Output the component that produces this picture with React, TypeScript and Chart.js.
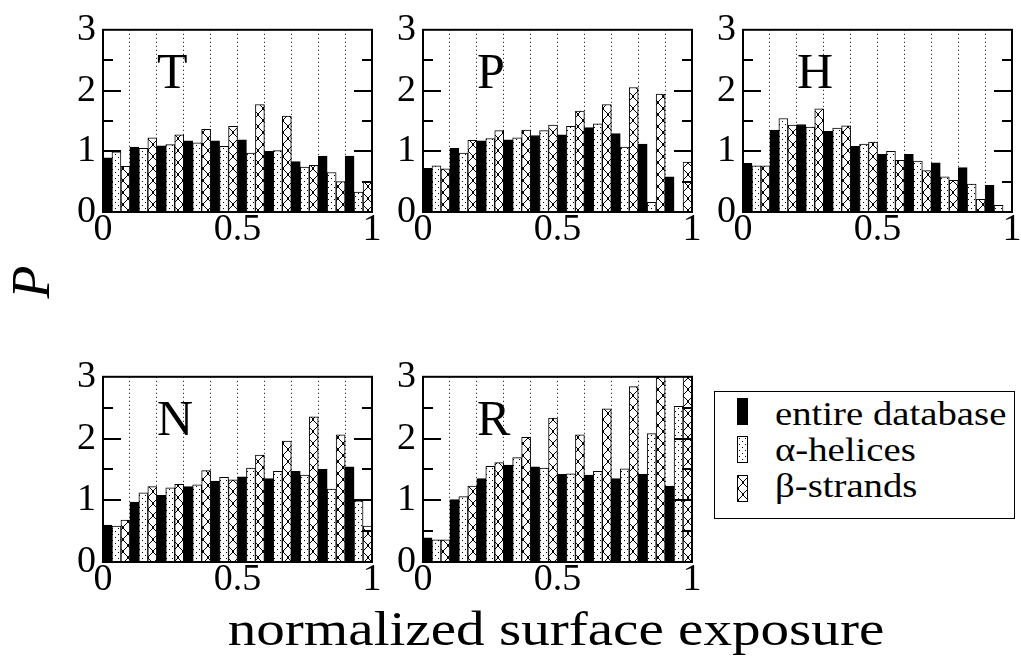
import React, { useEffect, useRef } from 'react';
import { Chart, registerables } from 'chart.js';

Chart.register(...registerables);

// ---------- data ----------
const BINS = ['0-0.1', '0.1-0.2', '0.2-0.3', '0.3-0.4', '0.4-0.5', '0.5-0.6', '0.6-0.7', '0.7-0.8', '0.8-0.9', '0.9-1'];
const SERIES = ['entire database', 'α-helices', 'β-strands'];
const X_TICK_LABELS = [0, 0.5, 1];
const X_GRID_STEP = 0.1;
const Y_MAX = 3;
const Y_LABEL_STEP = 1;
const Y_INNER_TICKS = [0.5, 1, 1.5, 2, 2.5];

const T_ENTIRE = [0.89, 1.07, 1.09, 1.17, 1.17, 1.19, 1.0, 0.83, 0.92, 0.92];
const T_HELIX = [0.99, 1.05, 1.11, 1.14, 1.08, 0.97, 1.01, 0.74, 0.65, 0.33];
const T_STRAND = [0.75, 1.22, 1.27, 1.36, 1.41, 1.77, 1.58, 0.77, 0.5, 0.5];

const P_ENTIRE = [0.72, 1.05, 1.17, 1.19, 1.26, 1.27, 1.39, 1.29, 1.12, 0.58];
const P_HELIX = [0.76, 0.97, 1.21, 1.22, 1.34, 1.41, 1.45, 1.07, 0.16, 0];
const P_STRAND = [0.71, 1.18, 1.34, 1.35, 1.43, 1.66, 1.77, 2.05, 1.94, 0.82];

const H_ENTIRE = [0.8, 1.35, 1.44, 1.33, 1.08, 0.95, 0.95, 0.81, 0.73, 0.44];
const H_HELIX = [0.76, 1.54, 1.4, 1.38, 1.12, 1.0, 0.84, 0.58, 0.46, 0.11];
const H_STRAND = [0.76, 1.43, 1.7, 1.42, 1.15, 0.85, 0.68, 0.52, 0.21, 0];

const N_ENTIRE = [0.6, 0.97, 1.08, 1.22, 1.31, 1.38, 1.35, 1.47, 1.5, 1.54];
const N_HELIX = [0.58, 1.12, 1.2, 1.25, 1.37, 1.52, 1.47, 1.41, 1.18, 0.99];
const N_STRAND = [0.68, 1.22, 1.26, 1.48, 1.33, 1.73, 1.96, 2.35, 2.06, 0.58];

const R_ENTIRE = [0.39, 1.01, 1.35, 1.57, 1.54, 1.42, 1.41, 1.35, 1.42, 1.23];
const R_HELIX = [0.36, 1.06, 1.55, 1.69, 1.52, 1.43, 1.47, 1.51, 2.08, 2.52];
const R_STRAND = [0.36, 1.23, 1.61, 2.02, 2.33, 2.06, 2.48, 2.84, 3.2, 3.2];

const PANEL_NAMES = ['T', 'P', 'H', 'N', 'R'];
const PANEL_SERIES: Record<string, number[][]> = {
  T: [T_ENTIRE, T_HELIX, T_STRAND],
  P: [P_ENTIRE, P_HELIX, P_STRAND],
  H: [H_ENTIRE, H_HELIX, H_STRAND],
  N: [N_ENTIRE, N_HELIX, N_STRAND],
  R: [R_ENTIRE, R_HELIX, R_STRAND],
};

const Y_TITLE = 'P';
const X_TITLE = 'normalized surface exposure';

// ---------- layout (plot areas in page pixels) ----------
const PLOT_AREAS = [
  { left: 103, top: 24, width: 269, height: 188 },
  { left: 423, top: 24, width: 269, height: 188 },
  { left: 743, top: 24, width: 269, height: 188 },
  { left: 103, top: 371, width: 269, height: 191 },
  { left: 423, top: 371, width: 269, height: 191 },
];
const PAD_LEFT = 70;
const PAD_TOP = 24;
const PAD_RIGHT = 12;
const PAD_BOTTOM = 50;
const FONT = '"Liberation Serif", "Times New Roman", serif';

function makeTile(kind: 'dots' | 'cross'): HTMLCanvasElement {
  const c = document.createElement('canvas');
  const w = kind === 'dots' ? 6 : 10;
  const h = kind === 'dots' ? 6 : 12;
  c.width = w;
  c.height = h;
  const g = c.getContext('2d')!;
  g.fillStyle = '#fff';
  g.fillRect(0, 0, w, h);
  g.fillStyle = '#000';
  if (kind === 'dots') {
    g.fillRect(1, 1, 1, 1);
    g.fillRect(4, 4, 1, 1);
  } else {
    for (let j = 0; j < h; j++) {
      const x = Math.floor((j * w) / h);
      g.fillRect(x, j, 1, 1);
      g.fillRect(w - 1 - x, j, 1, 1);
    }
    g.fillRect(4, 5, 2, 2);
    g.fillRect(0, 0, 1, 1);
    g.fillRect(w - 1, 0, 1, 1);
    g.fillRect(0, h - 1, 1, 1);
    g.fillRect(w - 1, h - 1, 1, 1);
  }
  return c;
}

const framePlugin = {
  id: 'frame',
  afterDatasetsDraw(chart: any, _args: any, opts: any) {
    const { ctx, chartArea: a, scales } = chart;
    const y = scales.y;
    ctx.save();
    ctx.strokeStyle = '#000';
    ctx.lineWidth = 2;
    for (const v of Y_INNER_TICKS) {
      const py = Math.round(y.getPixelForValue(v));
      const len = Number.isInteger(v) ? 18 : 10;
      ctx.beginPath();
      ctx.moveTo(a.left, py);
      ctx.lineTo(a.left + len, py);
      ctx.moveTo(a.right, py);
      ctx.lineTo(a.right - len, py);
      ctx.stroke();
    }
    ctx.strokeRect(a.left, a.top, a.right - a.left, a.bottom - a.top);
    ctx.fillStyle = '#000';
    ctx.font = `50px ${FONT}`;
    ctx.textBaseline = 'alphabetic';
    ctx.textAlign = 'left';
    ctx.fillText(opts.label, a.left + 54, a.top + 58);
    ctx.restore();
  },
};

export default function App() {
  const canvasRefs = useRef<(HTMLCanvasElement | null)[]>([]);
  const dotSwatch = useRef<HTMLDivElement>(null);
  const crossSwatch = useRef<HTMLDivElement>(null);

  useEffect(() => {
    const dotTile = makeTile('dots');
    const crossTile = makeTile('cross');
    const charts: Chart[] = [];
    PANEL_NAMES.forEach((name, i) => {
      const canvas = canvasRefs.current[i];
      if (!canvas) return;
      const ctx = canvas.getContext('2d')!;
      const fills = ['#000', ctx.createPattern(dotTile, 'repeat'), ctx.createPattern(crossTile, 'repeat')];
      const series = PANEL_SERIES[name];
      const chart = new Chart(canvas, {
        type: 'bar',
        data: {
          labels: BINS,
          datasets: series.map((vals, k) => ({
            label: SERIES[k],
            data: vals,
            backgroundColor: fills[k] as any,
            borderColor: '#000',
            borderWidth: 1,
            borderSkipped: 'start',
            xAxisID: 'xc',
            yAxisID: 'y',
            categoryPercentage: 1,
            barPercentage: 1,
          })),
        },
        options: {
          responsive: false,
          animation: false,
          events: [],
          layout: { padding: { left: 0, top: PAD_TOP, right: PAD_RIGHT, bottom: 0 } },
          plugins: {
            legend: { display: false },
            tooltip: { enabled: false },
            frame: { label: name },
          } as any,
          scales: {
            xc: {
              type: 'category',
              display: false,
              offset: true,
              grid: { display: false },
            },
            x: {
              type: 'linear',
              position: 'bottom',
              min: 0,
              max: 1,
              offset: false,
              grid: { offset: false, color: '#000', lineWidth: 1, drawTicks: false, drawOnChartArea: true },
              border: { display: false, dash: [1, 3] },
              ticks: {
                stepSize: X_GRID_STEP,
                autoSkip: false,
                maxRotation: 0,
                minRotation: 0,
                padding: -5,
                color: '#000',
                font: { family: FONT, size: 38 },
                callback: (v: any) => {
                  const hit = X_TICK_LABELS.find((t) => Math.abs(t - Number(v)) < 1e-6);
                  return hit === undefined ? '' : String(hit);
                },
              },
              afterFit: (s: any) => {
                s.height = PAD_BOTTOM;
              },
            },
            y: {
              type: 'linear',
              min: 0,
              max: Y_MAX,
              grid: { display: false, drawTicks: false },
              border: { display: false },
              ticks: {
                stepSize: Y_LABEL_STEP,
                padding: 7,
                color: '#000',
                font: { family: FONT, size: 38 },
              },
              afterFit: (s: any) => {
                s.width = PAD_LEFT;
              },
            },
          } as any,
        },
        plugins: [framePlugin],
      });
      charts.push(chart);
    });
    if (dotSwatch.current) dotSwatch.current.style.backgroundImage = `url(${dotTile.toDataURL()})`;
    if (crossSwatch.current) crossSwatch.current.style.backgroundImage = `url(${crossTile.toDataURL()})`;
    return () => charts.forEach((c) => c.destroy());
  }, []);

  const legendRows = [
    { top: 398, baseline: 425, ref: null as any, bg: '#000' },
    { top: 436, baseline: 461, ref: dotSwatch, bg: '#fff' },
    { top: 475, baseline: 497, ref: crossSwatch, bg: '#fff' },
  ];

  return (
    <div
      style={{
        position: 'fixed',
        left: 0,
        top: 0,
        width: 1021,
        height: 664,
        overflow: 'hidden',
        background: '#fff',
        fontFamily: FONT,
        color: '#000',
      }}
    >
      {PLOT_AREAS.map((p, i) => (
        <canvas
          key={i}
          ref={(el) => {
            canvasRefs.current[i] = el;
          }}
          width={p.width + PAD_LEFT + PAD_RIGHT}
          height={p.height + PAD_TOP + PAD_BOTTOM}
          style={{ position: 'absolute', left: p.left - PAD_LEFT, top: p.top - PAD_TOP, display: 'block' }}
        />
      ))}

      {/* Y axis title */}
      <div
        style={{
          position: 'absolute',
          left: 31,
          top: 282,
          fontSize: 54,
          lineHeight: '54px',
          fontStyle: 'italic',
          whiteSpace: 'nowrap',
          transform: 'translate(-50%, -50%) rotate(-90deg)',
        }}
      >
        {Y_TITLE}
      </div>

      {/* X axis title */}
      <div
        style={{
          position: 'absolute',
          left: 556,
          top: 605,
          fontSize: 48,
          lineHeight: '48px',
          whiteSpace: 'nowrap',
          transform: 'translateX(-50%) scaleX(1.19)',
        }}
      >
        {X_TITLE}
      </div>

      {/* Legend */}
      <div
        style={{
          position: 'absolute',
          left: 714,
          top: 391,
          width: 301,
          height: 128,
          border: '1px solid #000',
          boxSizing: 'border-box',
        }}
      />
      {legendRows.map((r, k) => (
        <React.Fragment key={k}>
          <div
            ref={r.ref}
            style={{
              position: 'absolute',
              left: 737,
              top: r.top,
              width: 11,
              height: 27,
              boxSizing: 'border-box',
              border: '1px solid #000',
              background: r.bg,
            }}
          />
          <div
            style={{
              position: 'absolute',
              left: 775,
              top: r.baseline - 28,
              fontSize: 34,
              lineHeight: '34px',
              whiteSpace: 'nowrap',
              transform: 'scaleX(1.14)',
              transformOrigin: 'left center',
            }}
          >
            {SERIES[k]}
          </div>
        </React.Fragment>
      ))}
    </div>
  );
}
